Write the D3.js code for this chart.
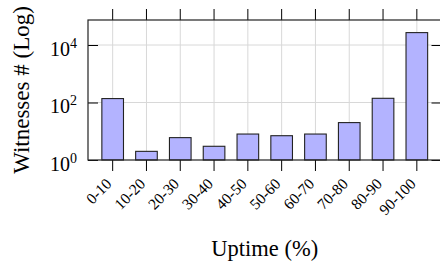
<!DOCTYPE html>
<html lang="en">
<head>
<meta charset="UTF-8" />
<title>Uptime</title>
<script src="https://d3js.org/d3.v7.min.js"></script>
<style>
  body { margin: 0; background: #fff; }
</style>
</head>
<body>
<div class="canvas"></div>
<script>
// data
const categories = ["0-10", "10-20", "20-30", "30-40", "40-50", "50-60", "60-70", "70-80", "80-90", "90-100"];
const witnesses = [137, 2, 6, 3, 8, 7, 8, 20, 140, 27000];
const yTickValues = [1, 100, 10000];
const yTickExponents = [0, 2, 4];

const serif = '"Liberation Serif", "DejaVu Serif", serif';
const width = 440, height = 266;
// plot box (right edge falls just outside the picture)
const plotLeft = 88, plotRight = 441.5, plotTop = 20, plotBottom = 160;

const svg = d3.select(".canvas").append("svg")
  .attr("width", width)
  .attr("height", height);

const x = d3.scaleBand()
  .domain(categories)
  .range([plotLeft, plotRight])
  .paddingInner(0.36)
  .paddingOuter(0.41);

const y = d3.scaleLog()
  .domain([1, Math.pow(10, 4.87)])
  .range([plotBottom, plotTop]);

const cx = d => x(d) + x.bandwidth() / 2;

// grid
const grid = svg.append("g").attr("stroke", "#d8d8d8").attr("stroke-width", 1);
grid.selectAll(".vgrid").data(categories).enter().append("line")
  .attr("x1", cx).attr("x2", cx)
  .attr("y1", plotTop).attr("y2", plotBottom);
grid.selectAll(".hgrid").data(yTickValues.slice(1)).enter().append("line")
  .attr("x1", plotLeft).attr("x2", plotRight)
  .attr("y1", d => y(d)).attr("y2", d => y(d));

// bars
svg.append("g").selectAll("rect").data(categories).enter().append("rect")
  .attr("x", d => x(d))
  .attr("width", x.bandwidth())
  .attr("y", (d, i) => y(witnesses[i]))
  .attr("height", (d, i) => plotBottom - y(witnesses[i]))
  .attr("fill", "#b3b3ff")
  .attr("stroke", "#222")
  .attr("stroke-width", 1.1);

// x axes (ticks outward on top and bottom)
const xb = svg.append("g")
  .attr("transform", `translate(0,${plotBottom})`)
  .call(d3.axisBottom(x).tickSize(11).tickSizeOuter(0));
xb.select(".domain").remove();
xb.selectAll(".tick line").attr("stroke", "#000");
xb.selectAll(".tick text")
  .attr("x", 0).attr("y", 0).attr("dy", "0.35em")
  .attr("text-anchor", "end")
  .attr("transform", "translate(-4,21) rotate(-45)")
  .style("font-size", "15.5px")
  .style("font-family", serif);

const xt = svg.append("g")
  .attr("transform", `translate(0,${plotTop})`)
  .call(d3.axisTop(x).tickSize(11).tickFormat(""));
xt.select(".domain").remove();
xt.selectAll(".tick line").attr("stroke", "#000");

// y axes (ticks inward)
const yl = svg.append("g")
  .attr("transform", `translate(${plotLeft},0)`)
  .call(d3.axisLeft(y).tickValues(yTickValues).tickSize(-10).tickPadding(11).tickFormat(""));
yl.select(".domain").remove();
yl.selectAll(".tick line").attr("stroke", "#000");
yl.selectAll(".tick text").each(function (d, i) {
  const t = d3.select(this)
    .attr("dy", "0.5em")
    .style("font-size", "20px")
    .style("font-family", serif);
  t.append("tspan").text("10");
  t.append("tspan").attr("dy", -8).style("font-size", "14px").text(yTickExponents[i]);
});

const yr = svg.append("g")
  .attr("transform", `translate(${plotRight},0)`)
  .call(d3.axisRight(y).tickValues(yTickValues).tickSize(-10).tickFormat(""));
yr.select(".domain").remove();
yr.selectAll(".tick line").attr("stroke", "#000");

// frame
svg.append("rect")
  .attr("x", plotLeft).attr("y", plotTop)
  .attr("width", plotRight - plotLeft).attr("height", plotBottom - plotTop)
  .attr("fill", "none")
  .attr("stroke", "#222")
  .attr("stroke-width", 1.2);

// axis titles
svg.append("text")
  .attr("x", (plotLeft + plotRight) / 2).attr("y", 256)
  .attr("text-anchor", "middle")
  .style("font-family", serif)
  .style("font-size", "22.5px")
  .text("Uptime (%)");

svg.append("text")
  .attr("transform", "translate(28.5,90) rotate(-90)")
  .attr("text-anchor", "middle")
  .style("font-family", serif)
  .style("font-size", "23px")
  .text("Witnesses # (Log)");
</script>
</body>
</html>
